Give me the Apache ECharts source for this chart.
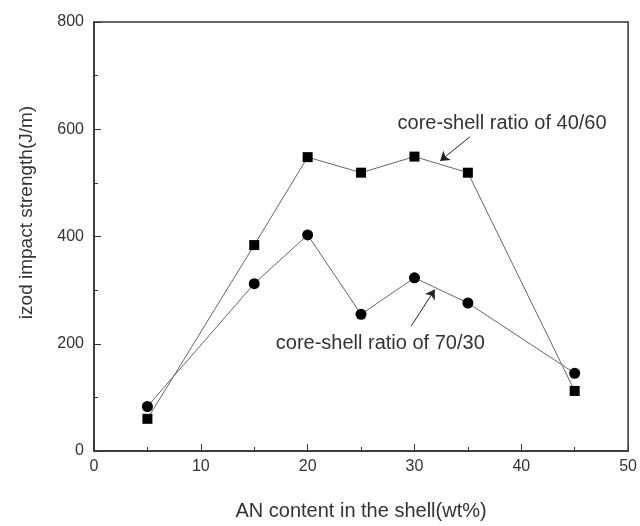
<!DOCTYPE html>
<html><head><meta charset="utf-8">
<script src="https://cdn.jsdelivr.net/npm/echarts@6/dist/echarts.min.js"></script>
<style>html,body{margin:0;padding:0;background:#fff;width:100%;height:100%;overflow:hidden}#c{width:640px;height:526px}</style>
</head><body><div id="c"></div>
<script>
const xValues = [5, 15, 20, 25, 30, 35, 45];
const ratio4060 = [60, 384, 548, 519, 549, 519, 112];
const ratio7030 = [83, 312, 403, 255, 323, 276, 145];
const xTicks = [0, 10, 20, 30, 40, 50];
const yTicks = [0, 200, 400, 600, 800];
const label4060 = 'core-shell ratio of 40/60';
const label7030 = 'core-shell ratio of 70/30';
const label4060Pos = [38.2, 610];
const label7030Pos = [26.8, 200];
const arrow4060 = [[35.2, 586], [32.4, 541]];
const arrow7030 = [[29.7, 233], [31.9, 301]];

const font = 'Liberation Sans, Arial, sans-serif';
const chart = echarts.init(document.getElementById('c'));
function pairs(ys){ return xValues.map((x,i)=>[x, ys[i]]); }
function arrowLine(a){ return [[{coord:a[0], symbol:'none'},{coord:a[1], symbol:'arrow'}]]; }
function textPoint(pos, txt){
  return {data:[{coord:pos, value:txt}], symbol:'circle', symbolSize:0,
    label:{show:true, position:'inside', formatter:txt, color:'#333', fontSize:20, fontFamily:font}};
}
const axisCommon = {
  axisLine:{lineStyle:{color:'#333', width:1.5}},
  axisTick:{inside:true, length:7, lineStyle:{color:'#333'}},
  minorTick:{show:true, splitNumber:2, length:4, lineStyle:{color:'#333'}},
  splitLine:{show:false}
};
chart.setOption({
  animation:false,
  grid:{left:94, right:9, top:22, bottom:69, show:true, borderColor:'#333', borderWidth:1.5},
  xAxis:Object.assign({type:'value', min:xTicks[0], max:xTicks[xTicks.length-1], interval:xTicks[1]-xTicks[0],
    name:'AN content in the shell(wt%)', nameLocation:'middle', nameGap:50,
    nameTextStyle:{fontSize:20, color:'#333', fontFamily:font},
    axisLabel:{fontSize:16, color:'#333', fontFamily:font, margin:8}}, axisCommon),
  yAxis:Object.assign({type:'value', min:yTicks[0], max:yTicks[yTicks.length-1], interval:yTicks[1]-yTicks[0],
    name:'izod impact strength(J/m)', nameLocation:'middle', nameGap:58,
    nameTextStyle:{fontSize:19, color:'#333', fontFamily:font, padding:[0,0,0,48]},
    axisLabel:{fontSize:16, color:'#333', fontFamily:font, margin:10}}, axisCommon),
  series:[
    {type:'line', data:pairs(ratio4060), symbol:'rect', symbolSize:10,
     itemStyle:{color:'#000'}, lineStyle:{color:'#666', width:1},
     markLine:{silent:true, symbolSize:9, label:{show:false}, lineStyle:{color:'#222', width:1, type:'solid'}, data:arrowLine(arrow4060)},
     markPoint:textPoint(label4060Pos, label4060)},
    {type:'line', data:pairs(ratio7030), symbol:'circle', symbolSize:11,
     itemStyle:{color:'#000'}, lineStyle:{color:'#666', width:1},
     markLine:{silent:true, symbolSize:9, label:{show:false}, lineStyle:{color:'#222', width:1, type:'solid'}, data:arrowLine(arrow7030)},
     markPoint:textPoint(label7030Pos, label7030)}
  ]
});
</script></body></html>
